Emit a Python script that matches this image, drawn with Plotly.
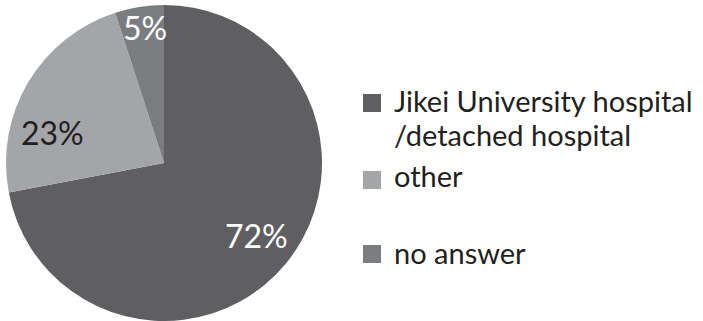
import plotly.graph_objects as go

# Survey answers: where respondents work
labels = ["Jikei University hospital<br>/detached hospital", "other", "no answer"]
values = [72, 23, 5]
colors = ["#5f5f62", "#a4a5a8", "#7b7c80"]
label_colors = ["#ffffff", "#231f20", "#ffffff"]

W, H = 703, 321
FONT = "Lato"
FS = 29

def px(x):
    return x / W

def py(y):
    return 1 - y / H

fig = go.Figure(
    go.Pie(
        labels=labels,
        values=values,
        sort=False,
        direction="clockwise",
        rotation=0,
        marker=dict(colors=colors, line=dict(width=0)),
        textinfo="none",
        hoverinfo="skip",
        showlegend=False,
        domain=dict(x=[px(6), px(322)], y=[0, 316 / H]),
    )
)

annotations = []
shapes = []

# percentage labels placed inside each slice
pct_pos = [(256, 235), (52, 133), (145, 27)]
for v, (x, y), c in zip(values, pct_pos, label_colors):
    annotations.append(dict(
        x=px(x), y=py(y), xref="paper", yref="paper",
        text=f"{v}%", showarrow=False, xanchor="center", yanchor="middle",
        font=dict(family=FONT, size=32, color=c),
    ))

# legend: swatch + (possibly two-line) label
swatch_y = [103, 180, 254]
first_line_y = [101, 177, 253]
line_gap = 34
for lab, col, sy, ty in zip(labels, colors, swatch_y, first_line_y):
    shapes.append(dict(
        type="rect", xref="paper", yref="paper",
        x0=px(363), x1=px(381), y0=py(sy + 9), y1=py(sy - 9),
        fillcolor=col, line=dict(width=0),
    ))
    for i, part in enumerate(lab.split("<br>")):
        annotations.append(dict(
            x=px(392), y=py(ty - 1 + i * line_gap), xref="paper", yref="paper",
            text=part, showarrow=False, xanchor="left", yanchor="middle",
            font=dict(family=FONT, size=FS, color="#231f20"),
        ))

fig.update_layout(
    width=W, height=H,
    margin=dict(l=0, r=0, t=0, b=0),
    paper_bgcolor="white", plot_bgcolor="white",
    annotations=annotations, shapes=shapes,
)

fig.write_html("out.html")
